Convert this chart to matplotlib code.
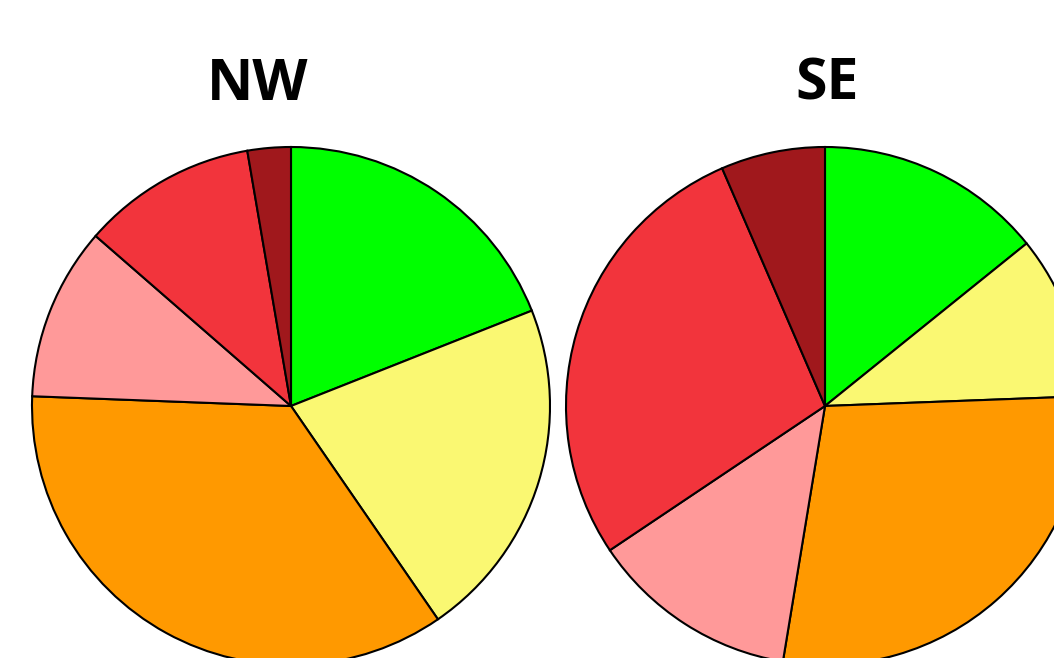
import matplotlib.pyplot as plt

W, H = 1054, 658

regions = ['NW', 'SE']
colors = ['#00FF00', '#FAF872', '#FF9900', '#FF9999', '#F2343C', '#A0181C']
nw_share = [19.0, 21.4, 35.2, 10.8, 10.9, 2.7]
se_share = [14.2, 10.2, 28.2, 13.0, 27.9, 6.5]

fig = plt.figure(figsize=(W / 100, H / 100), dpi=100)

def add_pie(cx, cy, r, values, title, tx):
	# cx, cy, r in pixels (top-left origin)
	ax = fig.add_axes([(cx - r) / W, (H - cy - r) / H, 2 * r / W, 2 * r / H])
	ax.pie(values, colors=colors, startangle=90, counterclock=False, radius=1,
	       wedgeprops=dict(edgecolor='black', linewidth=1.5))
	ax.set_xlim(-1.0, 1.0)
	ax.set_ylim(-1.0, 1.0)
	ax.set_aspect('auto')
	ax.axis('off')
	fig.text(tx / W, 1 - 85 / H, title, ha='center', va='center',
	         fontsize=41, fontweight='bold', family=['Open Sans', 'DejaVu Sans'])

add_pie(291, 406, 259, nw_share, regions[0], 258)
add_pie(825, 406, 259, se_share, regions[1], 827)

fig.savefig('out.png', dpi=100)
